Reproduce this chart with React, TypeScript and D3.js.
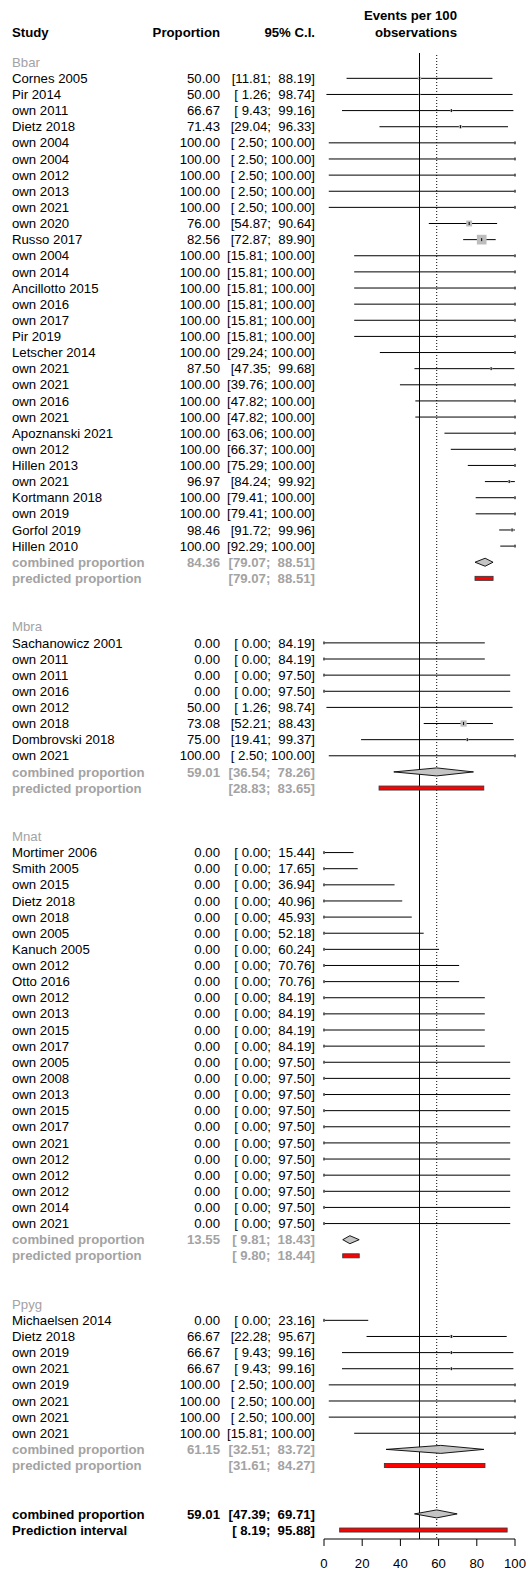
import React from "react";
import * as d3 from "d3";

// Study rows: [label, proportion, lower, upper, weight]
const bbarStudies: [string, number, number, number, number][] = [
  ["Cornes 2005", 50.0, 11.81, 88.19, 1.5],
  ["Pir 2014", 50.0, 1.26, 98.74, 0.5],
  ["own 2011", 66.67, 9.43, 99.16, 0.67],
  ["Dietz 2018", 71.43, 29.04, 96.33, 1.43],
  ["own 2004", 100.0, 2.5, 100.0, 0.38],
  ["own 2004", 100.0, 2.5, 100.0, 0.38],
  ["own 2012", 100.0, 2.5, 100.0, 0.38],
  ["own 2013", 100.0, 2.5, 100.0, 0.38],
  ["own 2021", 100.0, 2.5, 100.0, 0.38],
  ["own 2020", 76.0, 54.87, 90.64, 4.56],
  ["Russo 2017", 82.56, 72.87, 89.9, 12.4],
  ["own 2004", 100.0, 15.81, 100.0, 0.42],
  ["own 2014", 100.0, 15.81, 100.0, 0.42],
  ["Ancillotto 2015", 100.0, 15.81, 100.0, 0.42],
  ["own 2016", 100.0, 15.81, 100.0, 0.42],
  ["own 2017", 100.0, 15.81, 100.0, 0.42],
  ["Pir 2019", 100.0, 15.81, 100.0, 0.42],
  ["Letscher 2014", 100.0, 29.24, 100.0, 0.44],
  ["own 2021", 87.5, 47.35, 99.68, 0.88],
  ["own 2021", 100.0, 39.76, 100.0, 0.44],
  ["own 2016", 100.0, 47.82, 100.0, 0.46],
  ["own 2021", 100.0, 47.82, 100.0, 0.46],
  ["Apoznanski 2021", 100.0, 63.06, 100.0, 0.47],
  ["own 2012", 100.0, 66.37, 100.0, 0.47],
  ["Hillen 2013", 100.0, 75.29, 100.0, 0.48],
  ["own 2021", 96.97, 84.24, 99.92, 0.97],
  ["Kortmann 2018", 100.0, 79.41, 100.0, 0.48],
  ["own 2019", 100.0, 79.41, 100.0, 0.48],
  ["Gorfol 2019", 98.46, 91.72, 99.96, 0.98],
  ["Hillen 2010", 100.0, 92.29, 100.0, 0.49],
];

const mbraStudies: [string, number, number, number, number][] = [
  ["Sachanowicz 2001", 0.0, 0.0, 84.19, 0.42],
  ["own 2011", 0.0, 0.0, 84.19, 0.42],
  ["own 2011", 0.0, 0.0, 97.5, 0.38],
  ["own 2016", 0.0, 0.0, 97.5, 0.38],
  ["own 2012", 50.0, 1.26, 98.74, 0.5],
  ["own 2018", 73.08, 52.21, 88.43, 5.1],
  ["Dombrovski 2018", 75.0, 19.41, 99.37, 0.75],
  ["own 2021", 100.0, 2.5, 100.0, 0.38],
];

const mnatStudies: [string, number, number, number, number][] = [
  ["Mortimer 2006", 0.0, 0.0, 15.44, 0.49],
  ["Smith 2005", 0.0, 0.0, 17.65, 0.49],
  ["own 2015", 0.0, 0.0, 36.94, 0.47],
  ["Dietz 2018", 0.0, 0.0, 40.96, 0.47],
  ["own 2018", 0.0, 0.0, 45.93, 0.46],
  ["own 2005", 0.0, 0.0, 52.18, 0.46],
  ["Kanuch 2005", 0.0, 0.0, 60.24, 0.45],
  ["own 2012", 0.0, 0.0, 70.76, 0.44],
  ["Otto 2016", 0.0, 0.0, 70.76, 0.44],
  ["own 2012", 0.0, 0.0, 84.19, 0.42],
  ["own 2013", 0.0, 0.0, 84.19, 0.42],
  ["own 2015", 0.0, 0.0, 84.19, 0.42],
  ["own 2017", 0.0, 0.0, 84.19, 0.42],
  ["own 2005", 0.0, 0.0, 97.5, 0.38],
  ["own 2008", 0.0, 0.0, 97.5, 0.38],
  ["own 2013", 0.0, 0.0, 97.5, 0.38],
  ["own 2015", 0.0, 0.0, 97.5, 0.38],
  ["own 2017", 0.0, 0.0, 97.5, 0.38],
  ["own 2021", 0.0, 0.0, 97.5, 0.38],
  ["own 2012", 0.0, 0.0, 97.5, 0.38],
  ["own 2012", 0.0, 0.0, 97.5, 0.38],
  ["own 2012", 0.0, 0.0, 97.5, 0.38],
  ["own 2014", 0.0, 0.0, 97.5, 0.38],
  ["own 2021", 0.0, 0.0, 97.5, 0.38],
];

const ppygStudies: [string, number, number, number, number][] = [
  ["Michaelsen 2014", 0.0, 0.0, 23.16, 0.48],
  ["Dietz 2018", 66.67, 22.28, 95.67, 1.33],
  ["own 2019", 66.67, 9.43, 99.16, 0.67],
  ["own 2021", 66.67, 9.43, 99.16, 0.67],
  ["own 2019", 100.0, 2.5, 100.0, 0.38],
  ["own 2021", 100.0, 2.5, 100.0, 0.38],
  ["own 2021", 100.0, 2.5, 100.0, 0.38],
  ["own 2021", 100.0, 15.81, 100.0, 0.42],
];

// Subgroup summaries: [name, combined, lower, upper, predLower, predUpper]
const subgroups: [string, number, number, number, number, number][] = [
  ["Bbar", 84.36, 79.07, 88.51, 79.07, 88.51],
  ["Mbra", 59.01, 36.54, 78.26, 28.83, 83.65],
  ["Mnat", 13.55, 9.81, 18.43, 9.8, 18.44],
  ["Ppyg", 61.15, 32.51, 83.72, 31.61, 84.27],
];
const subgroupStudies = [bbarStudies, mbraStudies, mnatStudies, ppygStudies];

// Overall: combined proportion and prediction interval
const overall = [59.01, 47.39, 69.71];
const overallPrediction = [8.19, 95.88];

const axisTicks = [0, 20, 40, 60, 80, 100];
const nullValue = 50;

const W = 526;
const H = 1571;
const FONT = "'Liberation Sans', Arial, sans-serif";
const FS = 13.2;
const GREY = "#a3a3a3";

type Row =
  | { kind: "label"; text: string }
  | { kind: "study"; text: string; est: number; lo: number; hi: number; w: number }
  | { kind: "combined"; text: string; est: number; lo: number; hi: number; grey: boolean }
  | { kind: "predicted"; text: string; lo: number; hi: number; grey: boolean }
  | { kind: "blank" };

const rows: Row[] = [];
subgroups.forEach(([name, est, lo, hi, plo, phi], gi) => {
  rows.push({ kind: "label", text: name });
  subgroupStudies[gi].forEach(([text, e, l, h, w]) =>
    rows.push({ kind: "study", text, est: e, lo: l, hi: h, w })
  );
  rows.push({ kind: "combined", text: "combined proportion", est, lo, hi, grey: true });
  rows.push({ kind: "predicted", text: "predicted proportion", lo: plo, hi: phi, grey: true });
  rows.push({ kind: "blank" });
  rows.push({ kind: "blank" });
});
rows.push({ kind: "combined", text: "combined proportion", est: overall[0], lo: overall[1], hi: overall[2], grey: false });
rows.push({ kind: "predicted", text: "Prediction interval", lo: overallPrediction[0], hi: overallPrediction[1], grey: false });

const fmt = d3.format(".2f");
const pad = (s: string, n: number) => " ".repeat(Math.max(0, n - s.length)) + s;
const ciText = (lo: number, hi: number) => `[${pad(fmt(lo), 5)}; ${pad(fmt(hi), 6)}]`;

const x = d3.scaleLinear().domain([0, 100]).range([324, 515]);
const y = d3.scaleLinear().domain([0, rows.length - 1]).range([62.2, 62.2 + (rows.length - 1) * 16.13]);
const sq = d3.scaleSqrt().domain([0, 12.4]).range([0, 9.7]);

const axisY = 1539;
const refTop = 53;

export default function App() {
  return (
    <svg
      width={W}
      height={H}
      viewBox={`0 0 ${W} ${H}`}
      style={{ position: "absolute", left: 0, top: 0, background: "#fff" }}
      fontFamily={FONT}
      fontSize={FS}
    >
      <rect x={0} y={0} width={W} height={H} fill="#fff" />
      {/* column headers */}
      <g fontWeight="bold" fill="#000">
        <text x={12} y={32} dy="0.35em">Study</text>
        <text x={220} y={32} dy="0.35em" textAnchor="end">Proportion</text>
        <text x={315} y={32} dy="0.35em" textAnchor="end">95% C.I.</text>
        <text x={457} y={15} dy="0.35em" textAnchor="end">Events per 100</text>
        <text x={457} y={32} dy="0.35em" textAnchor="end">observations</text>
      </g>

      {/* reference lines */}
      <line x1={x(nullValue)} x2={x(nullValue)} y1={refTop} y2={axisY} stroke="#000" strokeWidth={1} />
      <line
        x1={x(overall[0])}
        x2={x(overall[0])}
        y1={refTop + 2}
        y2={axisY}
        stroke="#000"
        strokeWidth={1}
        strokeDasharray="1,2"
      />

      {rows.map((r, i) => {
        const yc = y(i);
        if (r.kind === "blank") return null;
        if (r.kind === "label") {
          return (
            <text key={i} x={12} y={yc} dy="0.35em" fill={GREY}>
              {r.text}
            </text>
          );
        }
        if (r.kind === "study") {
          const s = Math.max(1.6, sq(r.w));
          return (
            <g key={i}>
              <text x={12} y={yc} dy="0.35em" fill="#000">{r.text}</text>
              <text x={220} y={yc} dy="0.35em" textAnchor="end" fill="#000">{fmt(r.est)}</text>
              <text x={315} y={yc} dy="0.35em" textAnchor="end" fill="#000" style={{ whiteSpace: "pre" }} xmlSpace="preserve">
                {ciText(r.lo, r.hi)}
              </text>
              <line x1={x(r.lo)} x2={x(r.hi)} y1={yc} y2={yc} stroke="#000" strokeWidth={1} />
              <rect x={x(r.est) - s / 2} y={yc - s / 2} width={s} height={s} fill="#bdbdbd" stroke="none" />
              <line x1={x(r.est)} x2={x(r.est)} y1={yc - 1.5} y2={yc + 1.5} stroke="#000" strokeWidth={1} />
            </g>
          );
        }
        const col = r.grey ? GREY : "#000";
        if (r.kind === "combined") {
          const h = 4;
          const pts = [
            [x(r.lo), yc],
            [x(r.est), yc - h],
            [x(r.hi), yc],
            [x(r.est), yc + h],
          ];
          return (
            <g key={i}>
              <text x={12} y={yc} dy="0.35em" fill={col} fontWeight="bold">{r.text}</text>
              <text x={220} y={yc} dy="0.35em" textAnchor="end" fill={col} fontWeight="bold">{fmt(r.est)}</text>
              <text x={315} y={yc} dy="0.35em" textAnchor="end" fill={col} fontWeight="bold" style={{ whiteSpace: "pre" }} xmlSpace="preserve">
                {ciText(r.lo, r.hi)}
              </text>
              <polygon points={pts.map((p) => p.join(",")).join(" ")} fill="#c4c4c4" stroke="#000" strokeWidth={0.9} />
            </g>
          );
        }
        return (
          <g key={i}>
            <text x={12} y={yc} dy="0.35em" fill={col} fontWeight="bold">{r.text}</text>
            <text x={315} y={yc} dy="0.35em" textAnchor="end" fill={col} fontWeight="bold" style={{ whiteSpace: "pre" }} xmlSpace="preserve">
              {ciText(r.lo, r.hi)}
            </text>
            <rect x={x(r.lo)} y={yc - 2} width={x(r.hi) - x(r.lo)} height={4} fill="#ff0000" stroke="#3a3a3a" strokeWidth={0.9} />
          </g>
        );
      })}

      {/* x axis */}
      <g>
        <line x1={x(axisTicks[0])} x2={x(axisTicks[axisTicks.length - 1])} y1={axisY} y2={axisY} stroke="#000" />
        {axisTicks.map((t) => (
          <g key={t}>
            <line x1={x(t)} x2={x(t)} y1={axisY} y2={axisY + 7} stroke="#000" />
            <text x={x(t)} y={1563} dy="0.35em" textAnchor="middle" fill="#000">{t}</text>
          </g>
        ))}
      </g>
    </svg>
  );
}
